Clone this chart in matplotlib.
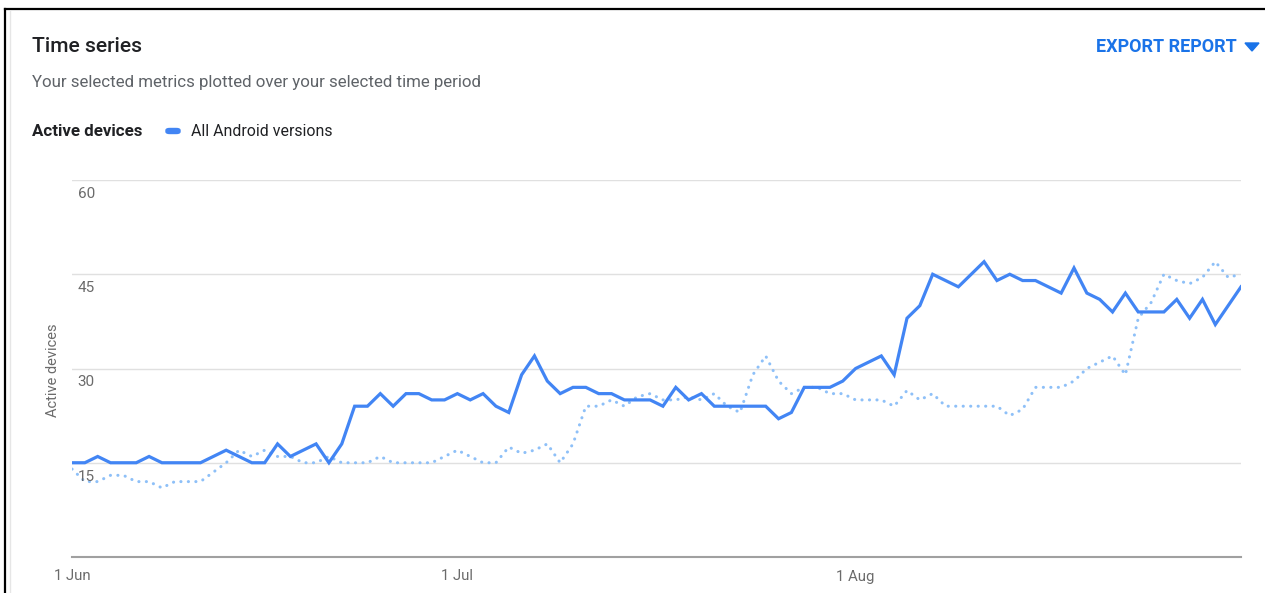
import matplotlib
matplotlib.use("Agg")
import matplotlib.pyplot as plt
import matplotlib.dates as mdates
import matplotlib.transforms as mtransforms
from matplotlib.lines import Line2D
from matplotlib.patches import Polygon, FancyBboxPatch
import pandas as pd

# ---- data ----
dates = pd.date_range("2019-06-01", "2019-08-31", freq="D")

# current period, all Android versions
active_devices = [
    15, 15, 16, 15, 15, 15, 16, 15, 15, 15,
    15, 16, 17, 16, 15, 15, 18, 16, 17, 18,
    15, 18, 24, 24, 26, 24, 26, 26, 25, 25,
    26, 25, 26, 24, 23, 29, 32, 28, 26, 27,
    27, 26, 26, 25, 25, 25, 24, 27, 25, 26,
    24, 24, 24, 24, 24, 22, 23, 27, 27, 27,
    28, 30, 31, 32, 29, 38, 40, 45, 44, 43,
    45, 47, 44, 45, 44, 44, 43, 42, 46, 42,
    41, 39, 42, 39, 39, 39, 41, 38, 41, 37,
    40, 43,
]

# previous (comparison) period, dotted
previous_period = [
    14, 12, 12, 13, 13, 12, 12, 11, 12, 12,
    12, 13.5, 15, 17, 16, 17, 16, 16, 15, 15,
    16, 15, 15, 15, 16, 15, 15, 15, 15, 16,
    17, 16, 15, 15, 17.5, 16.5, 17, 18, 15, 18,
    24, 24, 25, 24, 25.5, 26, 25, 25, 25.5, 25,
    26, 24, 23, 29, 32, 28, 26, 27, 27, 26,
    26, 25, 25, 25, 24, 26.5, 25, 26, 24, 24,
    24, 24, 24, 22.5, 23.5, 27, 27, 27, 28, 30,
    31, 32, 29, 38, 40.5, 45, 44, 43.5, 44.5, 47,
    44.5, 45,
]

y_ticks = [15, 30, 45, 60]
x_ticks = ["2019-06-01", "2019-07-01", "2019-08-01"]

BLUE = "#4285F4"
LIGHT_BLUE = "#8EC0F8"
GREY_TEXT = "#6b6b6b"

plt.rcParams["font.family"] = ["Roboto", "DejaVu Sans"]

W, H = 1265, 593
fig = plt.figure(figsize=(W / 100, H / 100), dpi=100)


def fx(x):
    return x / W


def fy(y):
    return 1 - y / H


# card border (black, top + left)
fig.add_artist(Line2D([fx(5), fx(5)], [fy(9), 0], color="black", lw=1.6))
fig.add_artist(Line2D([fx(5), 1], [fy(9), fy(9)], color="black", lw=1.6))
fig.add_artist(Line2D([fx(10), fx(10)], [fy(11), 0], color="#e6e6e6", lw=1))

# header texts
fig.text(fx(32), fy(47), "Time series", fontsize=15.2, weight="medium",
         color="#202124", va="center", ha="left")
fig.text(fx(32), fy(83), "Your selected metrics plotted over your selected time period",
         fontsize=12.2, color="#5f6368", va="center", ha="left")
fig.text(fx(32), fy(131), "Active devices", fontsize=12.2, weight="bold",
         color="#202124", va="center", ha="left")
fig.add_artist(FancyBboxPatch((fx(166), fy(133.5)), fx(14), 5 / H,
                              boxstyle="round,pad=0,rounding_size=0.003",
                              transform=fig.transFigure, color=BLUE))
fig.text(fx(191), fy(131), "All Android versions", fontsize=11.4,
         color="#202124", va="center", ha="left")
fig.text(fx(1237), fy(47), "EXPORT REPORT", fontsize=13, weight="bold",
         color="#1a73e8", va="center", ha="right")
fig.add_artist(Polygon([[fx(1245), fy(43)], [fx(1259), fy(43)], [fx(1252), fy(51)]],
                       closed=True, transform=fig.transFigure, color="#1a73e8"))

# plot area
left, right, top, bottom = 72, 1241, 180, 557
ax = fig.add_axes([fx(left), fy(bottom), (right - left) / W, (bottom - top) / H])

ax.plot(dates, previous_period, color=LIGHT_BLUE, lw=2.2,
        linestyle=(0, (0.05, 2.4)), dash_capstyle="round", zorder=2)
ax.plot(dates, active_devices, color=BLUE, lw=2.3, zorder=3,
        solid_joinstyle="miter")

ax.set_xlim(dates[0], dates[-1])
ax.set_ylim(0, 60)

for s in ["top", "right", "left"]:
    ax.spines[s].set_visible(False)
ax.spines["bottom"].set_color("#a0a0a0")
ax.spines["bottom"].set_linewidth(1.5)

ax.set_yticks(y_ticks)
ax.set_yticklabels([])
ax.tick_params(axis="y", length=0)
ax.grid(axis="y", color="#e0e0e0", lw=1)
ax.set_axisbelow(True)

# y tick labels sit inside the plot, just under each grid line
lbl_tr = mtransforms.offset_copy(ax.get_yaxis_transform(), fig=fig, x=4, y=-5, units="points")
for v in y_ticks:
    ax.text(0, v, str(v), transform=lbl_tr, ha="left", va="top",
            fontsize=11, color=GREY_TEXT)

ax.set_xticks(pd.to_datetime(x_ticks))
ax.xaxis.set_major_formatter(mdates.DateFormatter("%-d %b"))
ax.tick_params(axis="x", length=0, pad=9, labelsize=10.7, labelcolor=GREY_TEXT)

fig.text(fx(53), fy(370), "Active devices", rotation=90, fontsize=10.5,
         color=GREY_TEXT, va="center", ha="center")

fig.savefig("out.png", dpi=100, facecolor="white")
